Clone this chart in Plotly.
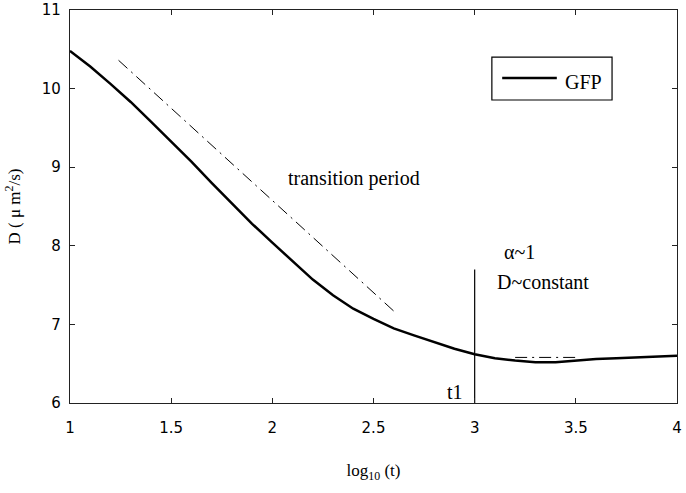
import plotly.graph_objects as go

# GFP curve
log_t = [1.0, 1.1, 1.2, 1.3, 1.4, 1.5, 1.6, 1.7, 1.8, 1.9, 2.0, 2.1, 2.2, 2.3, 2.4, 2.5,
         2.6, 2.7, 2.8, 2.9, 3.0, 3.1, 3.2, 3.3, 3.4, 3.5, 3.6, 3.7, 3.8, 3.9, 4.0]
D_gfp = [10.48, 10.28, 10.06, 9.83, 9.58, 9.33, 9.07, 8.80, 8.54, 8.28, 8.04, 7.80, 7.57,
         7.37, 7.20, 7.07, 6.95, 6.86, 6.77, 6.69, 6.62, 6.57, 6.54, 6.52, 6.52, 6.54,
         6.56, 6.57, 6.58, 6.59, 6.60]

# dash-dot guide lines
fit1_x = [1.24, 2.60]
fit1_y = [10.36, 7.17]
fit2_x = [3.20, 3.52]
fit2_y = [6.58, 6.58]

# t1 marker
t1_x = [3.0, 3.0]
t1_y = [6.0, 7.7]

x_ticks = [1, 1.5, 2, 2.5, 3, 3.5, 4]
x_tick_text = ["1", "1.5", "2", "2.5", "3", "3.5", "4"]
y_ticks = [6, 7, 8, 9, 10, 11]
series_name = "GFP"

SERIF = "Liberation Serif, Times New Roman, serif"
SANS = "DejaVu Sans, Verdana, sans-serif"
DASHDOT = "12px,5px,2px,5px"

fig = go.Figure()
fig.add_trace(go.Scatter(x=log_t, y=D_gfp, mode="lines", name=series_name,
                         line=dict(color="black", width=2.5), showlegend=False))
fig.add_trace(go.Scatter(x=fit1_x, y=fit1_y, mode="lines", showlegend=False,
                         line=dict(color="black", width=1, dash=DASHDOT)))
fig.add_trace(go.Scatter(x=fit2_x, y=fit2_y, mode="lines", showlegend=False,
                         line=dict(color="black", width=1, dash=DASHDOT)))
fig.add_trace(go.Scatter(x=t1_x, y=t1_y, mode="lines", showlegend=False,
                         line=dict(color="black", width=1.2)))

ann_font = dict(family=SERIF, size=20, color="black")
fig.add_annotation(x=2.406, y=8.86, text="transition period", showarrow=False, font=ann_font,
                   xanchor="center", yanchor="middle")
fig.add_annotation(x=3.135, y=7.92, text="α~1", showarrow=False, font=ann_font,
                   xanchor="left", yanchor="middle")
fig.add_annotation(x=3.10, y=7.54, text="D~constant", showarrow=False, font=ann_font,
                   xanchor="left", yanchor="middle")
fig.add_annotation(x=2.953, y=6.14, text="t1", showarrow=False, font=ann_font,
                   xanchor="right", yanchor="middle")

# legend box (drawn to match the reference's proportions)
fig.add_shape(type="rect", xref="paper", yref="paper", x0=0.695, x1=0.893, y0=0.771, y1=0.880,
              line=dict(color="black", width=1.2), fillcolor="white", layer="above")
fig.add_shape(type="line", xref="paper", yref="paper", x0=0.712, x1=0.802, y0=0.827, y1=0.827,
              line=dict(color="black", width=2.5), layer="above")
fig.add_annotation(xref="paper", yref="paper", x=0.813, y=0.818, text=series_name, showarrow=False,
                   xanchor="left", yanchor="middle", font=dict(family=SERIF, size=20, color="black"))

axis_common = dict(showgrid=False, zeroline=False, showline=True, linecolor="#222",
                   linewidth=1.2, mirror="ticks", ticks="inside", ticklen=5, automargin=False,
                   ticklabeloverflow="allow",
                   tickcolor="#222", tickfont=dict(family=SANS, size=15, color="black"))

fig.update_layout(
    width=686, height=493,
    margin=dict(l=70, r=9, t=10, b=90),
    plot_bgcolor="white", paper_bgcolor="white",
    xaxis=dict(range=[1, 4], tickvals=x_ticks, ticktext=x_tick_text, ticklabelstandoff=11,
               title=dict(text="log<sub>10</sub> (t)", font=dict(family=SERIF, size=17, color="black"),
                          standoff=28),
               **axis_common),
    yaxis=dict(range=[6, 11], tickvals=y_ticks, ticklabelstandoff=5,
               title=dict(text="D ( μ m<sup>2</sup>/s)", font=dict(family=SERIF, size=17, color="black"),
                          standoff=16),
               **axis_common),
)

fig.write_html("out.html", config={"displayModeBar": False},
               post_script="document.body.style.margin='0';document.body.style.padding='0';")
